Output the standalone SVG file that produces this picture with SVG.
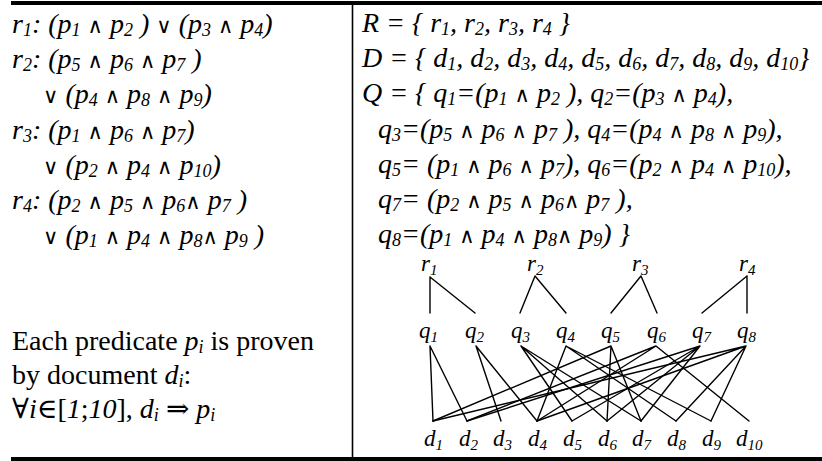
<svg xmlns="http://www.w3.org/2000/svg" width="822" height="461" viewBox="0 0 822 461">
<style>
text{font-family:"Liberation Serif","DejaVu Serif",serif;fill:#000}
.m{font-size:28px;font-style:italic}
.t{font-size:28px}
.s{font-size:18px;baseline-shift:-3px;font-style:italic}
.o{font-family:"DejaVu Sans",sans-serif;font-size:21px;font-style:normal}
.g{font-size:23px;font-style:italic}
.gs{font-size:15px;baseline-shift:-4px}
.e{stroke:#000;stroke-width:1.4;fill:none;stroke-linecap:round}
</style>
<rect width="822" height="461" fill="#fff"/>
<g id="table">
<line x1="11" y1="3" x2="822" y2="3" stroke="#000" stroke-width="4"/>
<line x1="11" y1="459" x2="822" y2="459" stroke="#000" stroke-width="4"/>
<line x1="352.5" y1="5" x2="352.5" y2="457" stroke="#000" stroke-width="1.6"/>
</g>
<g id="left-text">
<text class="m" x="12" y="33">r<tspan class="s">1</tspan>: (p<tspan class="s">1</tspan> <tspan class="o">∧</tspan> p<tspan class="s">2</tspan> ) <tspan class="o">∨</tspan> (p<tspan class="s">3</tspan> <tspan class="o">∧</tspan> p<tspan class="s">4</tspan>)</text>
<text class="m" x="12" y="68">r<tspan class="s">2</tspan>: (p<tspan class="s">5</tspan> <tspan class="o">∧</tspan> p<tspan class="s">6</tspan> <tspan class="o">∧</tspan> p<tspan class="s">7</tspan> )</text>
<text class="m" x="43" y="103"><tspan class="o">∨</tspan> (p<tspan class="s">4</tspan> <tspan class="o">∧</tspan> p<tspan class="s">8</tspan> <tspan class="o">∧</tspan> p<tspan class="s">9</tspan>)</text>
<text class="m" x="12" y="139">r<tspan class="s">3</tspan>: (p<tspan class="s">1</tspan> <tspan class="o">∧</tspan> p<tspan class="s">6</tspan> <tspan class="o">∧</tspan> p<tspan class="s">7</tspan>)</text>
<text class="m" x="43" y="174"><tspan class="o">∨</tspan> (p<tspan class="s">2</tspan> <tspan class="o">∧</tspan> p<tspan class="s">4</tspan> <tspan class="o">∧</tspan> p<tspan class="s">10</tspan>)</text>
<text class="m" x="12" y="209">r<tspan class="s">4</tspan>:  (p<tspan class="s">2</tspan> <tspan class="o">∧</tspan> p<tspan class="s">5</tspan> <tspan class="o">∧</tspan> p<tspan class="s">6</tspan><tspan class="o">∧</tspan> p<tspan class="s">7</tspan> )</text>
<text class="m" x="43" y="244"><tspan class="o">∨</tspan> (p<tspan class="s">1</tspan> <tspan class="o">∧</tspan> p<tspan class="s">4</tspan> <tspan class="o">∧</tspan> p<tspan class="s">8</tspan><tspan class="o">∧</tspan> p<tspan class="s">9</tspan> )</text>
<text class="t" x="12" y="350">Each predicate <tspan font-style="italic">p<tspan class="s">i</tspan></tspan> is proven</text>
<text class="t" x="12" y="384">by document <tspan font-style="italic">d<tspan class="s">i</tspan></tspan>:</text>
<text class="t" x="12" y="418">∀<tspan font-style="italic">i</tspan>∈[<tspan font-style="italic">1</tspan>;<tspan font-style="italic">10</tspan>], <tspan font-style="italic">d<tspan class="s">i</tspan></tspan> ⇒ <tspan font-style="italic">p<tspan class="s">i</tspan></tspan></text>
</g>
<g id="right-text">
<text class="m" x="362" y="32">R = { r<tspan class="s">1</tspan>, r<tspan class="s">2</tspan>, r<tspan class="s">3</tspan>, r<tspan class="s">4</tspan> }</text>
<text class="m" x="362" y="67">D = { d<tspan class="s">1</tspan>, d<tspan class="s">2</tspan>, d<tspan class="s">3</tspan>, d<tspan class="s">4</tspan>, d<tspan class="s">5</tspan>, d<tspan class="s">6</tspan>, d<tspan class="s">7</tspan>, d<tspan class="s">8</tspan>, d<tspan class="s">9</tspan>, d<tspan class="s">10</tspan>}</text>
<text class="m" x="362" y="102">Q = { q<tspan class="s">1</tspan>=(p<tspan class="s">1</tspan> <tspan class="o">∧</tspan> p<tspan class="s">2</tspan> ), q<tspan class="s">2</tspan>=(p<tspan class="s">3</tspan> <tspan class="o">∧</tspan> p<tspan class="s">4</tspan>),</text>
<text class="m" x="378" y="138">q<tspan class="s">3</tspan>=(p<tspan class="s">5</tspan> <tspan class="o">∧</tspan> p<tspan class="s">6</tspan> <tspan class="o">∧</tspan> p<tspan class="s">7</tspan> ), q<tspan class="s">4</tspan>=(p<tspan class="s">4</tspan> <tspan class="o">∧</tspan> p<tspan class="s">8</tspan> <tspan class="o">∧</tspan> p<tspan class="s">9</tspan>),</text>
<text class="m" x="378" y="173">q<tspan class="s">5</tspan>= (p<tspan class="s">1</tspan> <tspan class="o">∧</tspan> p<tspan class="s">6</tspan> <tspan class="o">∧</tspan> p<tspan class="s">7</tspan>), q<tspan class="s">6</tspan>=(p<tspan class="s">2</tspan> <tspan class="o">∧</tspan> p<tspan class="s">4</tspan> <tspan class="o">∧</tspan> p<tspan class="s">10</tspan>),</text>
<text class="m" x="378" y="208">q<tspan class="s">7</tspan>= (p<tspan class="s">2</tspan> <tspan class="o">∧</tspan> p<tspan class="s">5</tspan> <tspan class="o">∧</tspan> p<tspan class="s">6</tspan><tspan class="o">∧</tspan> p<tspan class="s">7</tspan> ),</text>
<text class="m" x="378" y="243">q<tspan class="s">8</tspan>=(p<tspan class="s">1</tspan> <tspan class="o">∧</tspan> p<tspan class="s">4</tspan> <tspan class="o">∧</tspan> p<tspan class="s">8</tspan><tspan class="o">∧</tspan> p<tspan class="s">9</tspan>) }</text>
</g>
<g id="r1"><text class="g" x="421" y="271">r<tspan class="gs">1</tspan></text></g>
<g id="r2"><text class="g" x="527" y="271">r<tspan class="gs">2</tspan></text></g>
<g id="r3"><text class="g" x="632" y="271">r<tspan class="gs">3</tspan></text></g>
<g id="r4"><text class="g" x="739" y="271">r<tspan class="gs">4</tspan></text></g>
<g id="q1"><text class="g" x="419" y="338">q<tspan class="gs">1</tspan></text></g>
<g id="q2"><text class="g" x="465" y="338">q<tspan class="gs">2</tspan></text></g>
<g id="q3"><text class="g" x="511" y="338">q<tspan class="gs">3</tspan></text></g>
<g id="q4"><text class="g" x="556" y="338">q<tspan class="gs">4</tspan></text></g>
<g id="q5"><text class="g" x="601" y="338">q<tspan class="gs">5</tspan></text></g>
<g id="q6"><text class="g" x="647" y="338">q<tspan class="gs">6</tspan></text></g>
<g id="q7"><text class="g" x="692" y="338">q<tspan class="gs">7</tspan></text></g>
<g id="q8"><text class="g" x="737" y="338">q<tspan class="gs">8</tspan></text></g>
<g id="d1"><text class="g" x="424" y="446">d<tspan class="gs">1</tspan></text></g>
<g id="d2"><text class="g" x="459" y="446">d<tspan class="gs">2</tspan></text></g>
<g id="d3"><text class="g" x="493" y="446">d<tspan class="gs">3</tspan></text></g>
<g id="d4"><text class="g" x="528" y="446">d<tspan class="gs">4</tspan></text></g>
<g id="d5"><text class="g" x="563" y="446">d<tspan class="gs">5</tspan></text></g>
<g id="d6"><text class="g" x="598" y="446">d<tspan class="gs">6</tspan></text></g>
<g id="d7"><text class="g" x="632" y="446">d<tspan class="gs">7</tspan></text></g>
<g id="d8"><text class="g" x="667" y="446">d<tspan class="gs">8</tspan></text></g>
<g id="d9"><text class="g" x="702" y="446">d<tspan class="gs">9</tspan></text></g>
<g id="d10"><text class="g" x="736" y="446">d<tspan class="gs">10</tspan></text></g>
<g id="connectors" class="e">
<path d="M430,277V313M430,277L475,313"/>
<path d="M535,276L520,313M535,276L566,313"/>
<path d="M641,276L611,313M641,276L657,313"/>
<path d="M747,276L702,313M747,276L747,313"/>
<path d="M430,346L433,421M430,346L467,421"/>
<path d="M476,346L501,421M476,346L537,421"/>
<path d="M521,346L572,421M521,346L607,421M521,346L641,421"/>
<path d="M566,346L537,421M566,346L676,421M566,346L711,421"/>
<path d="M611,346L433,421M611,346L607,421M611,346L641,421"/>
<path d="M656,346L467,421M656,346L537,421M656,346L749,421"/>
<path d="M700,346L467,421M700,346L572,421M700,346L607,421M700,346L641,421"/>
<path d="M746,346L433,421M746,346L537,421M746,346L676,421M746,346L711,421"/>
</g>
</svg>
